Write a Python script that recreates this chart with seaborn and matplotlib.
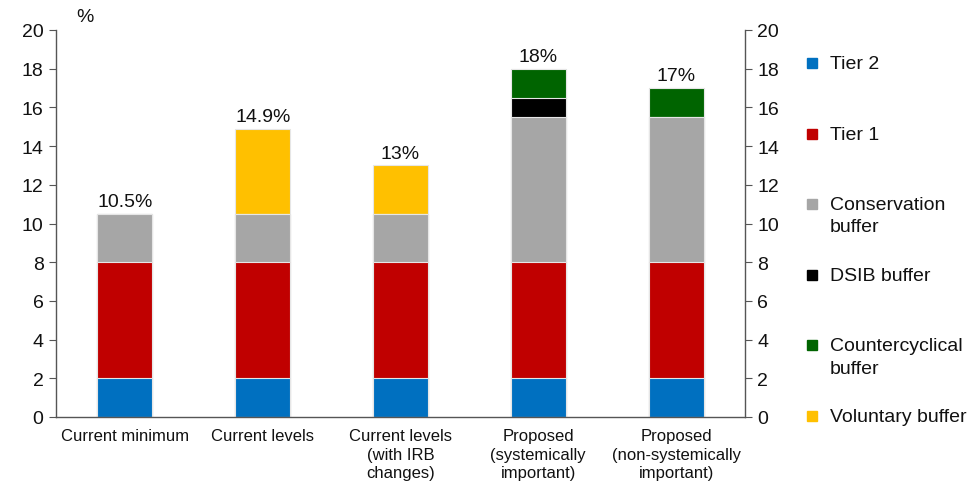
import numpy as np
import pandas as pd
import matplotlib
matplotlib.use("Agg")
import matplotlib.pyplot as plt
import seaborn as sns

categories = ["Current minimum", "Current levels", "Current levels\n(with IRB\nchanges)",
              "Proposed\n(systemically\nimportant)", "Proposed\n(non-systemically\nimportant)"]
series_names = ["Tier 2", "Tier 1", "Conservation\nbuffer", "DSIB buffer",
                "Countercyclical\nbuffer", "Voluntary buffer"]
tier2 = [2, 2, 2, 2, 2]
tier1 = [6, 6, 6, 6, 6]
conservation = [2.5, 2.5, 2.5, 7.5, 7.5]
dsib = [0, 0, 0, 1, 0]
countercyclical = [0, 0, 0, 1.5, 1.5]
voluntary = [0, 4.4, 2.5, 0, 0]
yticks = [0, 2, 4, 6, 8, 10, 12, 14, 16, 18, 20]
colors = ["#0070C0", "#C00000", "#A6A6A6", "#000000", "#006400", "#FFC000"]

sns.set_style("white")
plt.rcParams["font.family"] = ["Liberation Sans", "DejaVu Sans"]

layers = [tier2, tier1, conservation, dsib, countercyclical, voluntary]
cum = np.cumsum(np.array(layers, dtype=float), axis=0)
df = pd.DataFrame({"category": categories})
for i, name in enumerate(series_names):
    df[f"c{i}"] = cum[i]

fig = plt.figure(figsize=(9.76, 4.85), dpi=100)
ax = fig.add_axes([56/976, 1-418/485, (745-56)/976, (418-31)/485])

# draw cumulative tops, from top layer down so lower layers overlay
for i in reversed(range(len(series_names))):
    sns.barplot(data=df, x="category", y=f"c{i}", color=colors[i], width=0.4,
                saturation=1, edgecolor="#e6e6e6", linewidth=0.8, ax=ax,
                order=categories)

totals = cum[-1]
for xi, t in enumerate(totals):
    ax.text(xi, t + 0.2, f"{t:g}%", ha="center", va="bottom", fontsize=14, color="#111111")

ax.set_xlim(-0.5, 4.5)
ax.set_ylim(0, 20)
ax.set_yticks(yticks)
ax.set_xlabel("")
ax.set_ylabel("")
ax.tick_params(axis="y", which="both", direction="out", length=5, width=0.8,
               colors="#555555", labelcolor="#111111", labelsize=14, pad=4, left=True)
ax.tick_params(axis="x", length=0, labelsize=12, pad=8, labelcolor="#111111")
for lbl in ax.get_xticklabels():
    lbl.set_linespacing(1.3)
for s in ["top", "right"]:
    ax.spines[s].set_visible(False)
for s in ["left", "bottom"]:
    ax.spines[s].set_color("#555555")
    ax.spines[s].set_linewidth(1.0)

ax2 = ax.twinx()
ax2.set_ylim(0, 20)
ax2.set_yticks(yticks)
ax2.tick_params(axis="y", direction="out", length=5, width=0.8, colors="#555555",
                labelcolor="#111111", labelsize=14, pad=4, right=True)
for s in ["top", "left", "bottom"]:
    ax2.spines[s].set_visible(False)
ax2.spines["right"].set_color("#555555")
ax2.spines["right"].set_linewidth(1.0)

fig.text(85/976, 1-18/485, "%", ha="center", va="center", fontsize=14, color="#111111")

# legend entries, first line evenly spaced
for i, name in enumerate(series_names):
    ypx = 64 + 70.6 * i
    yf = 1 - ypx / 485
    fig.patches.append(plt.Rectangle((807/976, yf - 5/485), 10/976, 10/485,
                                     transform=fig.transFigure, color=colors[i]))
    fig.text(830/976, yf + 8/485, name, ha="left", va="top", fontsize=14,
             color="#111111", linespacing=1.4)

fig.savefig("out.png", dpi=100)
